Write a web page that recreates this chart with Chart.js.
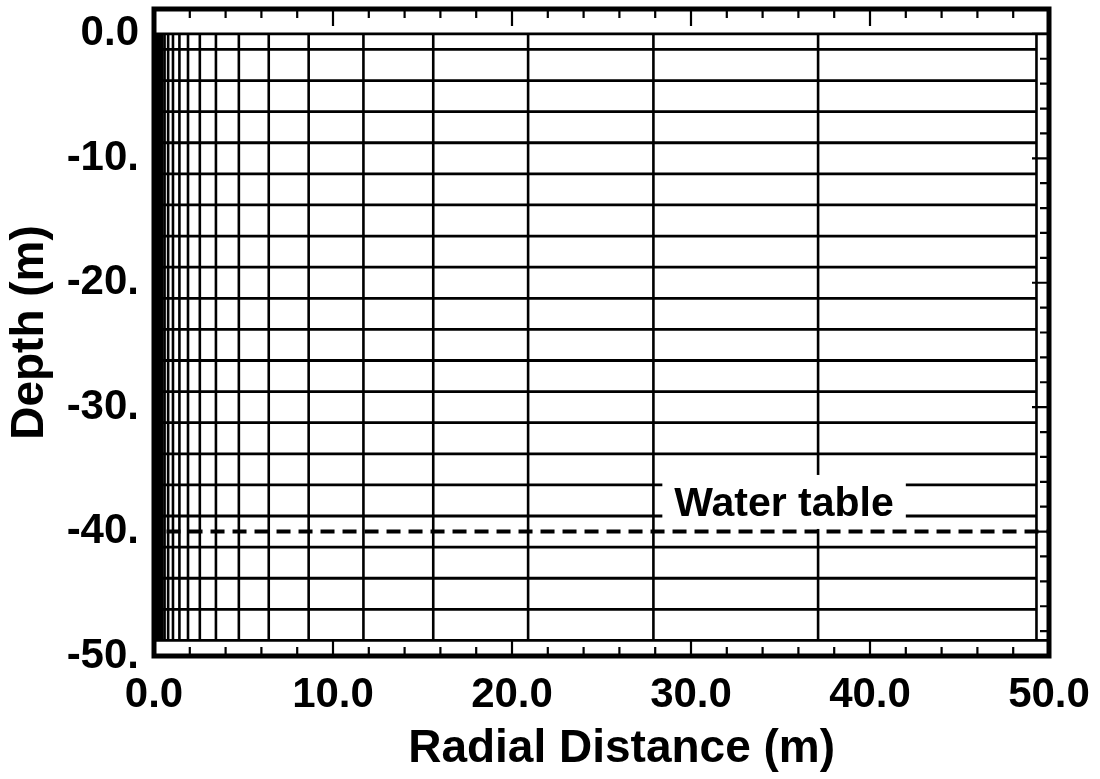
<!DOCTYPE html>
<html>
<head>
<meta charset="utf-8">
<script src="https://cdn.jsdelivr.net/npm/chart.js@4/dist/chart.umd.min.js"></script>
<style>
  html, body { margin: 0; padding: 0; background: #fff; }
  #wrap { width: 1100px; height: 779px; }
</style>
</head>
<body>
<div id="wrap"><canvas id="meshChart"></canvas></div>
<script>
// radial positions of the vertical grid lines (m)
var meshRadii = [0.1, 0.14, 0.19, 0.25, 0.33, 0.44, 0.59, 0.79, 1.06, 1.42, 1.9, 2.56, 3.46, 4.74, 6.41, 8.64, 11.7, 15.6, 20.9, 27.9, 37.1, 49.3];
// depths of the horizontal grid lines (m)
var meshDepths = [0, -1.25, -3.75, -6.25, -8.75, -11.25, -13.75, -16.25, -18.75, -21.25, -23.75, -26.25, -28.75, -31.25, -33.75, -36.25, -38.75, -41.25, -43.75, -46.25, -48.75];
// water table
var waterTableDepth = -40;
var waterTableFrom = 0.7;
var waterTableTo = 50;
var waterTableText = 'Water table';
var waterTableLabelAt = [35.2, -37.7];

// axes
var xTitle = 'Radial Distance (m)';
var xTitleStart = 14.2;   // radial value where the title text starts
var yTitle = 'Depth (m)';
var xTickValues = [0, 10, 20, 30, 40, 50];
var xTickLabels = ['0.0', '10.0', '20.0', '30.0', '40.0', '50.0'];
var yTickValues = [0, -10, -20, -30, -40, -50];
var yTickLabels = ['0.0', '-10.', '-20.', '-30.', '-40.', '-50.'];
var xMarkValues = [0, 2, 4, 6, 8, 10, 12, 14, 16, 18, 20, 22, 24, 26, 28, 30, 32, 34, 36, 38, 40, 42, 44, 46, 48, 50];
var yMarkValues = [0, -2, -4, -6, -8, -10, -12, -14, -16, -18, -20, -22, -24, -26, -28, -30, -32, -34, -36, -38, -40, -42, -44, -46, -48, -50];

var FONT = '"Liberation Sans", Arial, Helvetica, sans-serif';

// build the line segments, null y breaks the line between them
var verticalPts = [];
meshRadii.forEach(function(r){
  verticalPts.push({x: r, y: meshDepths[0]});
  verticalPts.push({x: r, y: meshDepths[meshDepths.length - 1]});
  verticalPts.push({x: r, y: null});
});
var horizontalPts = [];
meshDepths.forEach(function(d, i){
  var last = (i === 0 || i === meshDepths.length - 1);
  horizontalPts.push({x: 0, y: d});
  horizontalPts.push({x: last ? 50 : meshRadii[meshRadii.length - 1], y: d});
  horizontalPts.push({x: 0, y: null});
});

var frameTicks = {
  id: 'frameTicks',
  afterDatasetsDraw: function(chart){
    var ctx = chart.ctx, a = chart.chartArea;
    var xs = chart.scales.x, ys = chart.scales.y;
    ctx.save();
    ctx.strokeStyle = '#000';
    ctx.lineWidth = 2.2;
    ctx.beginPath();
    xMarkValues.forEach(function(v){
      var px = xs.getPixelForValue(v);
      var len = (v % 10 === 0) ? 17 : 9;
      ctx.moveTo(px, a.top); ctx.lineTo(px, a.top + len);
      ctx.moveTo(px, a.bottom); ctx.lineTo(px, a.bottom - len);
    });
    yMarkValues.forEach(function(v){
      var py = ys.getPixelForValue(v);
      var len = (v % 10 === 0) ? 17 : 9;
      ctx.moveTo(a.right, py); ctx.lineTo(a.right - len, py);
    });
    ctx.stroke();

    // label with white box behind it
    ctx.font = 'bold 41px ' + FONT;
    ctx.textAlign = 'center';
    ctx.textBaseline = 'middle';
    var tx = xs.getPixelForValue(waterTableLabelAt[0]);
    var ty = ys.getPixelForValue(waterTableLabelAt[1]);
    var w = ctx.measureText(waterTableText).width;
    ctx.fillStyle = '#fff';
    ctx.fillRect(tx - w / 2 - 12, ty - 28, w + 24, 54);
    ctx.fillStyle = '#000';
    ctx.fillText(waterTableText, tx, ty + 2);

    // outer frame
    ctx.lineWidth = 5;
    ctx.strokeRect(a.left, a.top, a.right - a.left, a.bottom - a.top);

    // x axis title, sits a bit right of the axis centre
    ctx.font = 'bold 46px ' + FONT;
    ctx.textAlign = 'left';
    ctx.textBaseline = 'middle';
    ctx.fillText(xTitle, xs.getPixelForValue(xTitleStart), xs.bottom - 30);
    ctx.restore();
  }
};

var ctx = document.getElementById('meshChart').getContext('2d');
var meshChart = new Chart(ctx, {
  type: 'scatter',
  plugins: [frameTicks],
  data: {
    datasets: [{
      label: 'vertical',
      data: verticalPts,
      showLine: true,
      spanGaps: false,
      borderColor: '#000',
      borderWidth: 2.6,
      pointRadius: 0
    },{
      label: 'horizontal',
      data: horizontalPts,
      showLine: true,
      spanGaps: false,
      borderColor: '#000',
      borderWidth: 2.8,
      pointRadius: 0
    },{
      label: 'water table',
      data: [{x: waterTableFrom, y: waterTableDepth}, {x: waterTableTo, y: waterTableDepth}],
      showLine: true,
      borderColor: '#000',
      borderWidth: 4,
      borderDash: [14, 8],
      pointRadius: 0
    }]
  },
  options: {
    responsive: true,
    maintainAspectRatio: false,
    animation: false,
    events: [],
    layout: {
      padding: { left: 0, right: 51, top: 9, bottom: 0 }
    },
    scales: {
      x: {
        type: 'linear',
        min: 0,
        max: 50,
        afterFit: function(scale){
          scale.height = 123;
          scale.paddingLeft = 0; scale.paddingRight = 0;
        },
        afterBuildTicks: function(scale){ scale.ticks = xTickValues.map(function(v){ return {value: v}; }); },
        grid: { display: false, drawTicks: false },
        border: { display: false },
        ticks: {
          color: '#000',
          padding: 14,
          maxRotation: 0,
          font: { family: FONT, size: 42, weight: 'bold' },
          callback: function(v){ return xTickLabels[xTickValues.indexOf(v)]; }
        },
        title: { display: false }
      },
      y: {
        type: 'linear',
        min: -50,
        max: 2,
        afterFit: function(scale){
          scale.width = 154;
          scale.paddingTop = 0; scale.paddingBottom = 0;
        },
        afterBuildTicks: function(scale){ scale.ticks = yTickValues.map(function(v){ return {value: v}; }); },
        grid: { display: false, drawTicks: false },
        border: { display: false },
        ticks: {
          color: '#000',
          padding: 15,
          font: { family: FONT, size: 42, weight: 'bold' },
          callback: function(v){ return yTickLabels[yTickValues.indexOf(v)]; }
        },
        title: {
          display: true,
          text: yTitle,
          color: '#000',
          padding: { top: 3, bottom: 0 },
          font: { family: FONT, size: 46, weight: 'bold' }
        }
      }
    },
    plugins: {
      legend: { display: false },
      tooltip: { enabled: false },
      title: { display: false }
    }
  }
});
</script>
</body>
</html>
